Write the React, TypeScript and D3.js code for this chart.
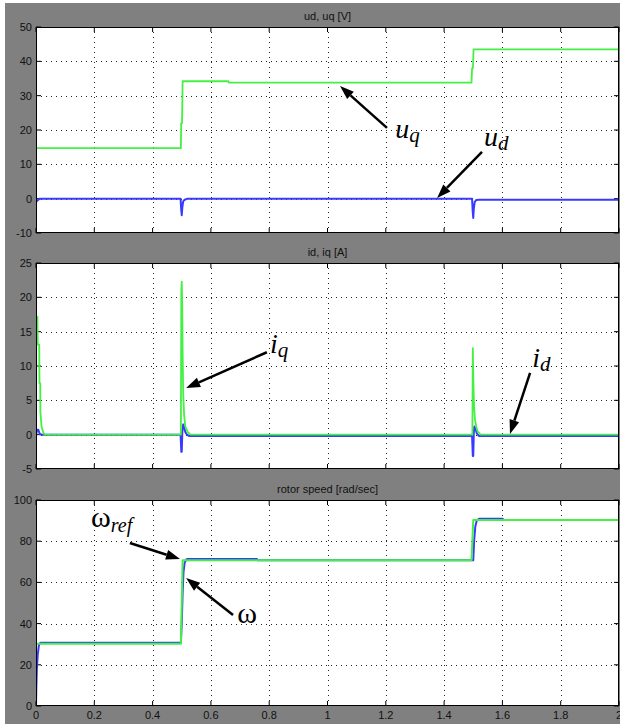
import React from "react";
import * as d3 from "d3";

// ---------- data ----------
const xTicks = [0, 0.2, 0.4, 0.6, 0.8, 1, 1.2, 1.4, 1.6, 1.8, 2];
const xTickLabels = ["0", "0.2", "0.4", "0.6", "0.8", "1", "1.2", "1.4", "1.6", "1.8", "2"];

const p1Title = "ud, uq [V]";
const p1Ticks = [-10, 0, 10, 20, 30, 40, 50];
const uqT = [0, 0.497, 0.498, 0.501, 0.503, 0.66, 0.662, 1.494, 1.496, 1.499, 1.501, 2];
const uqV = [14.7, 14.7, 22, 22, 34.2, 34.2, 33.8, 33.8, 38, 38, 43.5, 43.5];
const udT = [0, 0.004, 0.012, 0.496, 0.498, 0.5, 0.502, 0.505, 0.51, 0.52, 1.496, 1.498, 1.5, 1.502, 1.505, 1.51, 1.52, 2];
const udV = [-1, -0.6, 0, 0, -3, -4.8, -2.5, -0.8, -0.3, 0, 0, -3.5, -5.6, -2.8, -1, -0.4, -0.3, -0.3];

const p2Title = "id, iq [A]";
const p2Ticks = [-5, 0, 5, 10, 15, 20, 25];
const iqT = [0, 0.005, 0.006, 0.011, 0.012, 0.0145, 0.015, 0.019, 0.025, 0.03, 0.497, 0.4985, 0.5, 0.5015, 0.503, 0.505, 0.508, 0.512, 0.52, 0.53, 1.497, 1.4985, 1.5, 1.5015, 1.503, 1.506, 1.51, 1.515, 1.525, 2];
const iqV = [17.2, 17.2, 13.1, 13.1, 7.5, 7.5, 3.4, 1.2, 0.3, 0, 0, 21, 22.3, 19, 12, 6, 3, 1.2, 0.4, 0, 0, 12.6, 8.7, 6, 4, 2.2, 1.2, 0.5, 0, 0];
const idT = [0, 0.004, 0.008, 0.013, 0.02, 0.496, 0.4985, 0.5, 0.502, 0.505, 0.508, 0.512, 0.518, 0.525, 1.496, 1.4985, 1.5, 1.502, 1.504, 1.507, 1.512, 1.52, 2];
const idV = [0, 0.7, 0.7, 0.1, 0, 0, -2.5, -2.5, 0.5, 1.5, 1.2, 0.4, 0, -0.2, -0.2, -3.1, -3.1, 0.4, 1.2, 0.9, 0.2, -0.2, -0.2];

const p3Title = "rotor speed [rad/sec]";
const p3Ticks = [0, 20, 40, 60, 80, 100];
const wrefT = [0, 0.497, 0.503, 1.494, 1.5, 2];
const wrefV = [30.2, 30.2, 70.7, 70.7, 90.3, 90.3];
const wT = [0, 0.001, 0.003, 0.006, 0.01, 0.015, 0.497, 0.5, 0.503, 0.506, 0.51, 0.515, 0.52, 0.758, 0.76, 1.5, 1.503, 1.507, 1.512, 1.52, 1.601, 1.603, 2];
const wV = [0, 8, 18, 25, 29.5, 30.7, 30.7, 40, 55, 65, 69.5, 71, 71.4, 71.4, 70.7, 70.7, 80, 87, 90, 90.9, 90.9, 90.3, 90.3];

// annotations in data units: [tailT, tailV, tipT, tipV, labelT, labelV]
const uqNote = [1.204, 20.6, 1.043, 32.8, 1.232, 17.7];
const udNote = [1.53, 13.6, 1.376, 0.2, 1.537, 15.3];
const iqNote = [0.792, 12.0, 0.515, 6.8, 0.803, 11.9];
const idNote = [1.695, 9.0, 1.626, 0.1, 1.702, 9.85];
const wrefNote = [0.322, 79.1, 0.494, 71.4, 0.189, 86.9];
const wNote = [0.676, 44.2, 0.515, 62.1, 0.69, 40.3];

// ---------- layout ----------
const W = 620;
const H = 724;
const LEFT = 36;
const RIGHT = 619;
const GREEN = "#44f044";
const BLUE = "#3a3aff";
const GRAY = "#808080";
const SANS = "'Liberation Sans', Arial, sans-serif";
const SERIF = "'Liberation Serif', 'Times New Roman', serif";

const x = d3.scaleLinear().domain([0, 2]).range([LEFT, RIGHT]);

type Series = { t: number[]; v: number[]; color: string; width: number };

function Arrow({ x1, y1, x2, y2 }: { x1: number; y1: number; x2: number; y2: number }) {
  const ang = Math.atan2(y2 - y1, x2 - x1);
  const L = 14, hw = 5;
  const bx = x2 - L * Math.cos(ang), by = y2 - L * Math.sin(ang);
  const px = -Math.sin(ang) * hw, py = Math.cos(ang) * hw;
  return (
    <g>
      <line x1={x1} y1={y1} x2={bx} y2={by} stroke="#000" strokeWidth={2.5} />
      <path d={`M${x2},${y2}L${bx + px},${by + py}L${bx - px},${by - py}Z`} fill="#000" />
    </g>
  );
}

function Panel({
  top, bottom, domain, ticks, title, series, showX, children,
}: {
  top: number; bottom: number; domain: [number, number]; ticks: number[]; title: string;
  series: Series[]; showX: boolean; children?: (y: d3.ScaleLinear<number, number>) => React.ReactNode;
}) {
  const y = d3.scaleLinear().domain(domain).range([bottom, top]);
  const id = `clip${top}`;
  const line = d3.line<[number, number]>().x((d) => x(d[0])).y((d) => y(d[1]));
  return (
    <g>
      <text x={(LEFT + RIGHT) / 2} y={top - 7} textAnchor="middle" fontFamily={SANS} fontSize={11} fill="#111">
        {title}
      </text>
      <rect x={LEFT} y={top} width={RIGHT - LEFT} height={bottom - top} fill="#fff" />
      <clipPath id={id}>
        <rect x={LEFT} y={top} width={RIGHT - LEFT} height={bottom - top} />
      </clipPath>
      {/* grid */}
      {xTicks.slice(1, -1).map((t) => (
        <line key={"gx" + t} x1={Math.round(x(t)) + 0.5} x2={Math.round(x(t)) + 0.5} y1={top} y2={bottom}
          stroke="#222" strokeWidth={1} strokeDasharray="1,4" />
      ))}
      {ticks.slice(1, -1).map((v) => (
        <line key={"gy" + v} y1={Math.round(y(v)) + 0.5} y2={Math.round(y(v)) + 0.5} x1={LEFT} x2={RIGHT}
          stroke="#222" strokeWidth={1} strokeDasharray="1,4" />
      ))}
      {/* tick marks */}
      {xTicks.map((t) => (
        <g key={"tx" + t}>
          <line x1={x(t)} x2={x(t)} y1={top} y2={top + 5} stroke="#000" />
          <line x1={x(t)} x2={x(t)} y1={bottom} y2={bottom - 5} stroke="#000" />
        </g>
      ))}
      {ticks.map((v) => (
        <g key={"ty" + v}>
          <line y1={y(v)} y2={y(v)} x1={LEFT} x2={LEFT + 5} stroke="#000" />
          <line y1={y(v)} y2={y(v)} x1={RIGHT} x2={RIGHT - 5} stroke="#000" />
          <text x={32} y={y(v)} dy="0.36em" textAnchor="end" fontFamily={SANS} fontSize={11} fill="#111">
            {String(v)}
          </text>
        </g>
      ))}
      {/* series */}
      <g clipPath={`url(#${id})`}>
        {series.map((s, i) => (
          <path key={i} d={line(s.t.map((t, k) => [t, s.v[k]] as [number, number])) || ""}
            fill="none" stroke={s.color} strokeWidth={s.width} strokeLinejoin="round" />
        ))}
      </g>
      <rect x={LEFT + 0.5} y={top + 0.5} width={RIGHT - LEFT - 1} height={bottom - top - 1} fill="none" stroke="#000" strokeWidth={1} />
      {showX &&
        xTicks.map((t, i) => (
          <text key={"xl" + t} x={x(t)} y={719} textAnchor="middle" fontFamily={SANS} fontSize={11} fill="#111">
            {xTickLabels[i]}
          </text>
        ))}
      {children && children(y)}
    </g>
  );
}

function Note({ n, y, main, sub, mainItalic = true, mainSize = 28, subSize = 21, dy = 4 }: {
  n: number[]; y: d3.ScaleLinear<number, number>; main: string; sub?: string;
  mainItalic?: boolean; mainSize?: number; subSize?: number; dy?: number;
}) {
  return (
    <g>
      <Arrow x1={x(n[0])} y1={y(n[1])} x2={x(n[2])} y2={y(n[3])} />
      <text x={x(n[4])} y={y(n[5])} fontFamily={SERIF} fill="#000">
        <tspan fontSize={mainSize} fontStyle={mainItalic ? "italic" : "normal"}>{main}</tspan>
        {sub && (
          <tspan fontSize={subSize} fontStyle="italic" dy={dy}>{sub}</tspan>
        )}
      </text>
    </g>
  );
}

export default function App() {
  return (
    <svg width={W} height={H} style={{ position: "absolute", left: 0, top: 0, background: "#fff" }}>
      <rect x={5} y={3} width={W - 5} height={H - 3} fill={GRAY} />
      <Panel top={27} bottom={233} domain={[-10, 50]} ticks={p1Ticks} title={p1Title} showX={false}
        series={[
          { t: udT, v: udV, color: BLUE, width: 2 },
          { t: uqT, v: uqV, color: GREEN, width: 1.8 },
        ]}>
        {(y) => (
          <g>
            <Note n={uqNote} y={y} main="u" sub="q" />
            <Note n={udNote} y={y} main="u" sub="d" />
          </g>
        )}
      </Panel>
      <Panel top={263} bottom={469} domain={[-5, 25]} ticks={p2Ticks} title={p2Title} showX={false}
        series={[
          { t: idT, v: idV, color: BLUE, width: 2 },
          { t: iqT, v: iqV, color: GREEN, width: 1.8 },
        ]}>
        {(y) => (
          <g>
            <Note n={iqNote} y={y} main="i" sub="q" />
            <Note n={idNote} y={y} main="i" sub="d" />
          </g>
        )}
      </Panel>
      <Panel top={500} bottom={706} domain={[0, 100]} ticks={p3Ticks} title={p3Title} showX={true}
        series={[
          { t: wT, v: wV, color: BLUE, width: 2 },
          { t: wrefT, v: wrefV, color: GREEN, width: 2 },
        ]}>
        {(y) => (
          <g>
            <Note n={wrefNote} y={y} main="ω" sub="ref" mainItalic={false} mainSize={30} subSize={20} dy={5} />
            <Note n={wNote} y={y} main="ω" mainItalic={false} mainSize={30} />
          </g>
        )}
      </Panel>
    </svg>
  );
}
